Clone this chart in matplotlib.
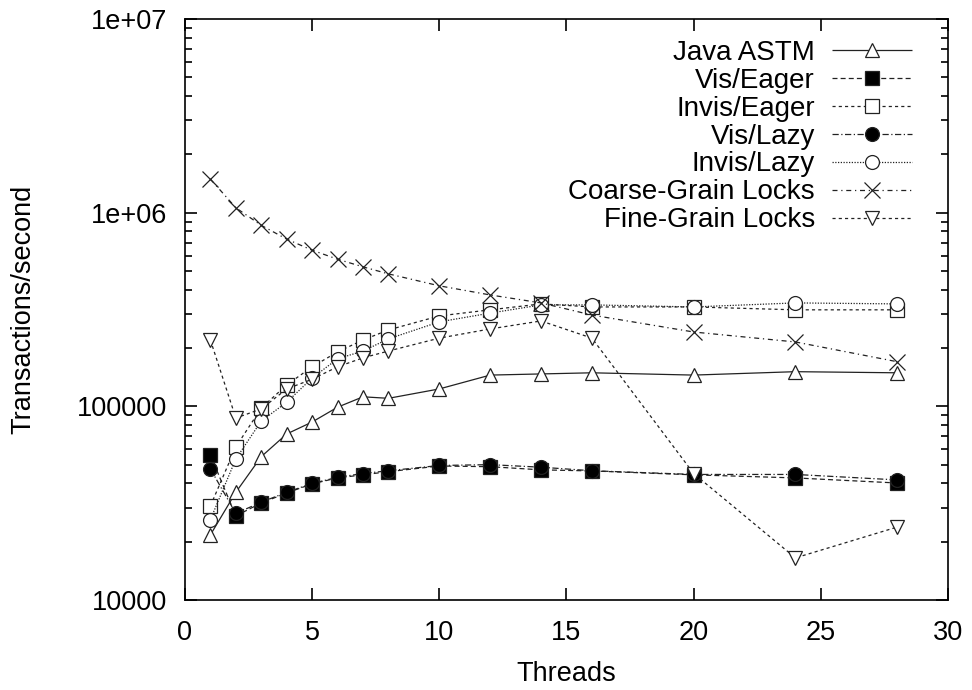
import matplotlib
matplotlib.use("Agg")
import matplotlib.pyplot as plt
from matplotlib.ticker import LogLocator, FixedFormatter, FixedLocator, NullFormatter

plt.rcParams['font.family'] = ['Liberation Sans', 'DejaVu Sans']

threads = [1, 2, 3, 4, 5, 6, 7, 8, 10, 12, 14, 16, 20, 24, 28]

java_astm = [2.17e4, 3.6e4, 5.5e4, 7.2e4, 8.3e4, 9.9e4, 1.12e5, 1.10e5, 1.23e5, 1.45e5, 1.47e5, 1.49e5, 1.45e5, 1.51e5, 1.49e5]
vis_eager = [5.6e4, 2.72e4, 3.17e4, 3.57e4, 3.98e4, 4.27e4, 4.43e4, 4.6e4, 4.92e4, 4.88e4, 4.7e4, 4.64e4, 4.43e4, 4.27e4, 4.02e4]
invis_eager = [3.06e4, 6.17e4, 9.8e4, 1.29e5, 1.6e5, 1.91e5, 2.2e5, 2.48e5, 2.93e5, 3.15e5, 3.38e5, 3.26e5, 3.26e5, 3.15e5, 3.15e5]
vis_lazy = [4.75e4, 2.8e4, 3.2e4, 3.6e4, 4.0e4, 4.3e4, 4.5e4, 4.65e4, 4.95e4, 5.0e4, 4.85e4, 4.65e4, 4.45e4, 4.45e4, 4.17e4]
invis_lazy = [2.6e4, 5.35e4, 8.4e4, 1.05e5, 1.4e5, 1.76e5, 1.93e5, 2.23e5, 2.73e5, 3.03e5, 3.34e5, 3.34e5, 3.26e5, 3.42e5, 3.38e5]
coarse_locks = [1.49e6, 1.06e6, 8.6e5, 7.3e5, 6.4e5, 5.75e5, 5.25e5, 4.83e5, 4.19e5, 3.76e5, 3.42e5, 2.96e5, 2.42e5, 2.15e5, 1.70e5]
fine_locks = [2.2e5, 8.7e4, 9.7e4, 1.23e5, 1.38e5, 1.6e5, 1.78e5, 1.93e5, 2.25e5, 2.51e5, 2.76e5, 2.25e5, 4.5e4, 1.65e4, 2.38e4]

series = [
    ("Java ASTM", java_astm, "^", "white", (0, ())),
    ("Vis/Eager", vis_eager, "s", "black", (0, (4, 2.5))),
    ("Invis/Eager", invis_eager, "s", "white", (0, (2.5, 2.5))),
    ("Vis/Lazy", vis_lazy, "o", "black", (0, (5, 2, 1, 2))),
    ("Invis/Lazy", invis_lazy, "o", "white", (0, (1, 1.2))),
    ("Coarse-Grain Locks", coarse_locks, "x", "black", (0, (4, 3, 1, 3))),
    ("Fine-Grain Locks", fine_locks, "v", "white", (0, (2.5, 2.5))),
]

fig = plt.figure(figsize=(9.72, 6.9), dpi=100)
ax = fig.add_axes([0.1903, 0.1304, 0.785, 0.8421])

for label, vals, marker, face, ls in series:
    ax.plot(threads, vals, color="#222222", linewidth=0.9, linestyle=ls,
            marker=marker, markersize=10 if marker != "x" else 11,
            markerfacecolor=face, markeredgecolor="#222222",
            markeredgewidth=0.9, label=label)

ax.set_yscale("log")
ax.set_xlim(0, 30)
ax.set_ylim(1e4, 1e7)
ax.set_xticks([0, 5, 10, 15, 20, 25, 30])
ax.yaxis.set_major_locator(FixedLocator([1e4, 1e5, 1e6, 1e7]))
ax.yaxis.set_major_formatter(FixedFormatter(["10000", "100000", "1e+06", "1e+07"]))
ax.yaxis.set_minor_locator(LogLocator(base=10, subs=range(2, 10)))
ax.yaxis.set_minor_formatter(NullFormatter())

ax.tick_params(which="both", direction="in", top=True, right=True, labelsize=19.5, width=1.2)
ax.tick_params(which="major", length=8.5)
ax.tick_params(which="minor", length=5)
ax.tick_params(axis="x", which="major", pad=14.5)
ax.tick_params(axis="y", which="major", pad=13)
for s in ax.spines.values():
    s.set_linewidth(1.2)

ax.set_xlabel("Threads", fontsize=19.5, labelpad=11)
ax.set_ylabel("Transactions/second", fontsize=19.5, labelpad=29)

ax.legend(loc="upper right", bbox_to_anchor=(0.975, 0.993), frameon=False,
          markerfirst=False, fontsize=20, labelspacing=0.07, handlelength=2.9,
          handletextpad=0.6, borderaxespad=0.2)

fig.savefig("out.png", dpi=100)
